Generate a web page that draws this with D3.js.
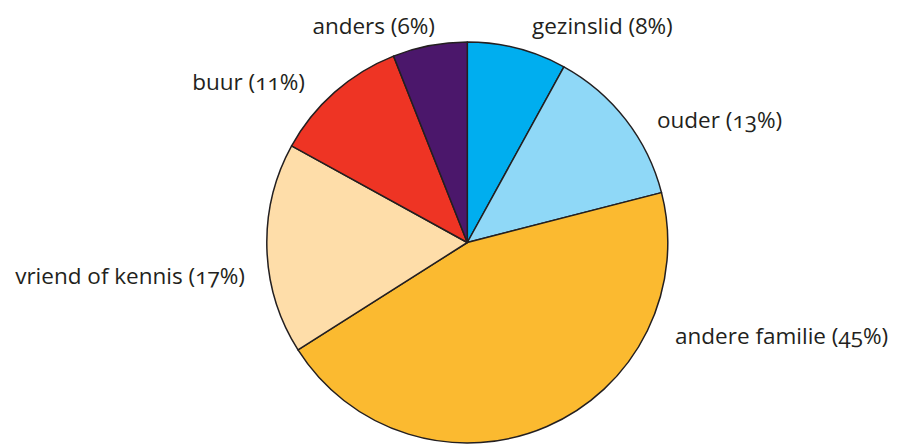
<!DOCTYPE html>
<html>
<head>
<meta charset="utf-8">
<script src="https://cdn.jsdelivr.net/npm/d3@7"></script>
<style>
  html, body { margin: 0; padding: 0; background: #fff; }
  svg { display: block; }
  text { font-family: "Open Sans", "Noto Sans", sans-serif; font-size: 22.5px; fill: #231f20; font-variant-numeric: oldstyle-nums; }
</style>
</head>
<body>
<svg id="chart" width="899" height="445"></svg>
<script>
// Data (clockwise from 12 o'clock)
const categories = ["gezinslid", "ouder", "andere familie", "vriend of kennis", "buur", "anders"];
const values = [8, 13, 45, 17, 11, 6];
const colors = ["#00aeef", "#8fd8f7", "#fbba30", "#fedda9", "#ee3424", "#4b176b"];

// Label layout (annotation placement, not data)
const labelLayout = [
  { x: 532, y: 34, anchor: "start" },
  { x: 657, y: 128, anchor: "start" },
  { x: 675, y: 344, anchor: "start" },
  { x: 245, y: 284, anchor: "end" },
  { x: 305, y: 90, anchor: "end" },
  { x: 435, y: 34, anchor: "end" }
];

const data = categories.map((c, i) => ({ label: c, value: values[i], color: colors[i] }));

const svg = d3.select("#chart");
const cx = 467.3, cy = 242.5, radius = 200.5;

const pie = d3.pie().value(d => d.value).sort(null);
const arc = d3.arc().innerRadius(0).outerRadius(radius);

const g = svg.append("g").attr("transform", `translate(${cx},${cy})`);
g.selectAll("path")
  .data(pie(data))
  .join("path")
  .attr("d", arc)
  .attr("fill", d => d.data.color)
  .attr("stroke", "#231f20")
  .attr("stroke-width", 1.5)
  .attr("stroke-linejoin", "round");

svg.selectAll("text.lbl")
  .data(data)
  .join("text")
  .attr("class", "lbl")
  .attr("x", (d, i) => labelLayout[i].x)
  .attr("y", (d, i) => labelLayout[i].y)
  .attr("text-anchor", (d, i) => labelLayout[i].anchor)
  .text(d => `${d.label} (${d.value}%)`);
</script>
</body>
</html>
